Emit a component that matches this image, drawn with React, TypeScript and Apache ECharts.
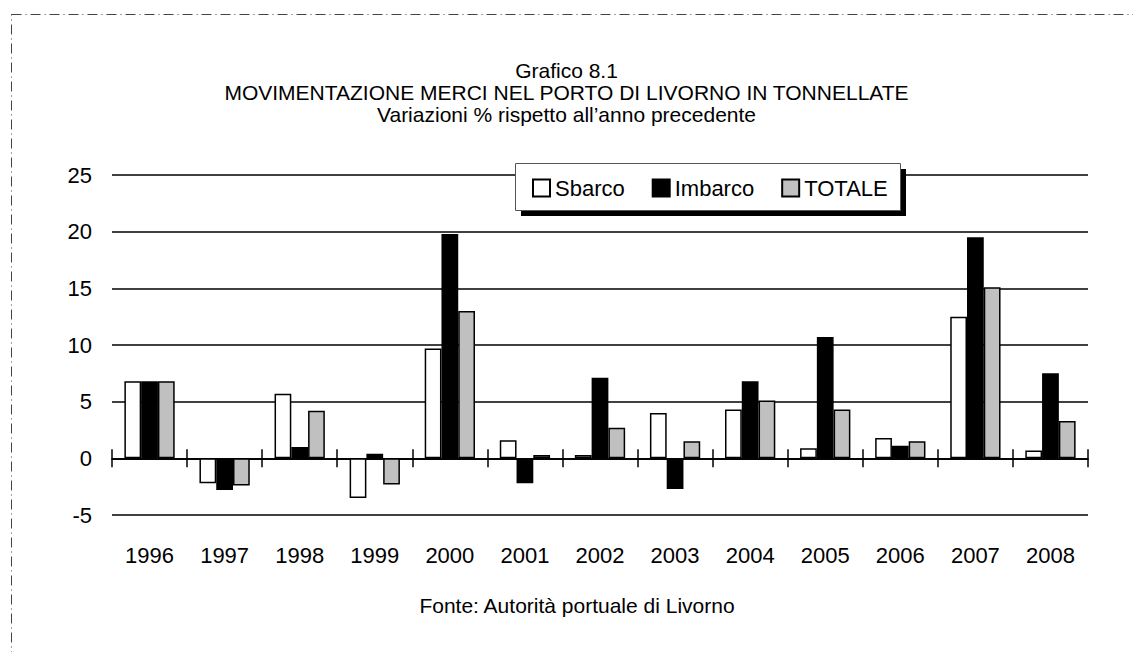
import React, { useEffect, useRef } from "react";
import * as echarts from "echarts";

const years = ["1996", "1997", "1998", "1999", "2000", "2001", "2002", "2003", "2004", "2005", "2006", "2007", "2008"];
const sbarco = [6.8, -2.2, 5.7, -3.5, 9.7, 1.6, 0.3, 4.0, 4.3, 0.9, 1.8, 12.5, 0.7];
const imbarco = [6.8, -2.8, 1.0, 0.4, 19.8, -2.2, 7.1, -2.7, 6.8, 10.7, 1.1, 19.5, 7.5];
const totale = [6.8, -2.4, 4.2, -2.3, 13.0, 0.3, 2.7, 1.5, 5.1, 4.3, 1.5, 15.1, 3.3];
const seriesNames = ["Sbarco", "Imbarco", "TOTALE"];
const seriesColors = ["#ffffff", "#000000", "#c0c0c0"];
const legendTextWidths = [70, 80, 82];
const titleLines = ["Grafico 8.1", "MOVIMENTAZIONE MERCI NEL PORTO DI LIVORNO IN TONNELLATE", "Variazioni % rispetto all\u2019anno precedente"];
const sourceText = "Fonte: Autorit\u00e0 portuale di Livorno";

const FONT = "'Liberation Sans', Arial, sans-serif";

export default function App() {
  const ref = useRef<HTMLDivElement>(null);
  useEffect(() => {
    document.body.style.margin = "0";
    if (!ref.current) return;
    const chart = echarts.init(ref.current, null, { renderer: "svg" });
    const values = [sbarco, imbarco, totale];
    const hiddenAxisBase = {
      type: "category" as const,
      data: years,
      axisLabel: { show: false },
      axisLine: { show: true, onZero: true, onZeroAxisIndex: 0, lineStyle: { color: "#000", width: 1.5 } },
      axisTick: { show: true, length: 9, lineStyle: { color: "#000", width: 1.5 } },
      splitLine: { show: false },
    };
    chart.setOption({
      animation: false,
      backgroundColor: "#fff",
      textStyle: { fontFamily: FONT },
      title: {
        text: titleLines.join("\n"),
        left: "center",
        top: 54,
        textStyle: { fontSize: 21, lineHeight: 22, fontWeight: "normal", color: "#000", fontFamily: FONT },
      },
      grid: { left: 112, right: 45, top: 175, bottom: 137, containLabel: false },
      legend: {
        data: seriesNames.map((name, i) => ({ name, textStyle: { width: legendTextWidths[i] } })),
        left: 532,
        top: 177,
        padding: 0,
        icon: "rect",
        itemWidth: 17,
        itemHeight: 17,
        itemGap: 27,
        z: 20,
        textStyle: { fontSize: 22, color: "#000", fontFamily: FONT },
      },
      xAxis: [
        { ...hiddenAxisBase, position: "bottom" },
        { ...hiddenAxisBase, position: "top" },
        {
          type: "category",
          data: years,
          position: "bottom",
          axisLine: { show: false, onZero: false },
          axisTick: { show: false },
          axisLabel: { show: true, fontSize: 22, color: "#000", margin: 29, fontFamily: FONT },
          splitLine: { show: false },
        },
      ],
      yAxis: {
        type: "value",
        min: -5,
        max: 25,
        interval: 5,
        axisLine: { show: false },
        axisTick: { show: false },
        axisLabel: { fontSize: 22, color: "#000", margin: 20, fontFamily: FONT },
        splitLine: { show: true, lineStyle: { color: "#000", width: 1.5 } },
      },
      series: seriesNames.map((name, i) => ({
        name,
        type: "bar",
        xAxisIndex: 0,
        data: values[i],
        barGap: "0%",
        barCategoryGap: "33%",
        itemStyle: { color: seriesColors[i], borderColor: "#000", borderWidth: 1.5 },
      })),
      graphic: [
        {
          type: "rect",
          z: 0,
          silent: true,
          shape: { x: 11.5, y: 14.5, width: 1300, height: 800 },
          style: { fill: "none", stroke: "#444", lineWidth: 1, lineDash: [10, 4, 1, 4] },
        },
        {
          type: "rect",
          z: 10,
          silent: true,
          shape: { x: 521, y: 169, width: 385, height: 47 },
          style: { fill: "#000" },
        },
        {
          type: "rect",
          z: 11,
          silent: true,
          shape: { x: 515.5, y: 163.5, width: 385, height: 47 },
          style: { fill: "#fff", stroke: "#555", lineWidth: 1 },
        },
        {
          type: "text",
          z: 12,
          silent: true,
          x: 577,
          y: 605,
          style: { text: sourceText, fontSize: 21, fill: "#000", textAlign: "center", textVerticalAlign: "middle", fontFamily: FONT },
        },
      ],
    });
    return () => chart.dispose();
  }, []);
  return <div ref={ref} style={{ width: 1133, height: 652 }} />;
}
